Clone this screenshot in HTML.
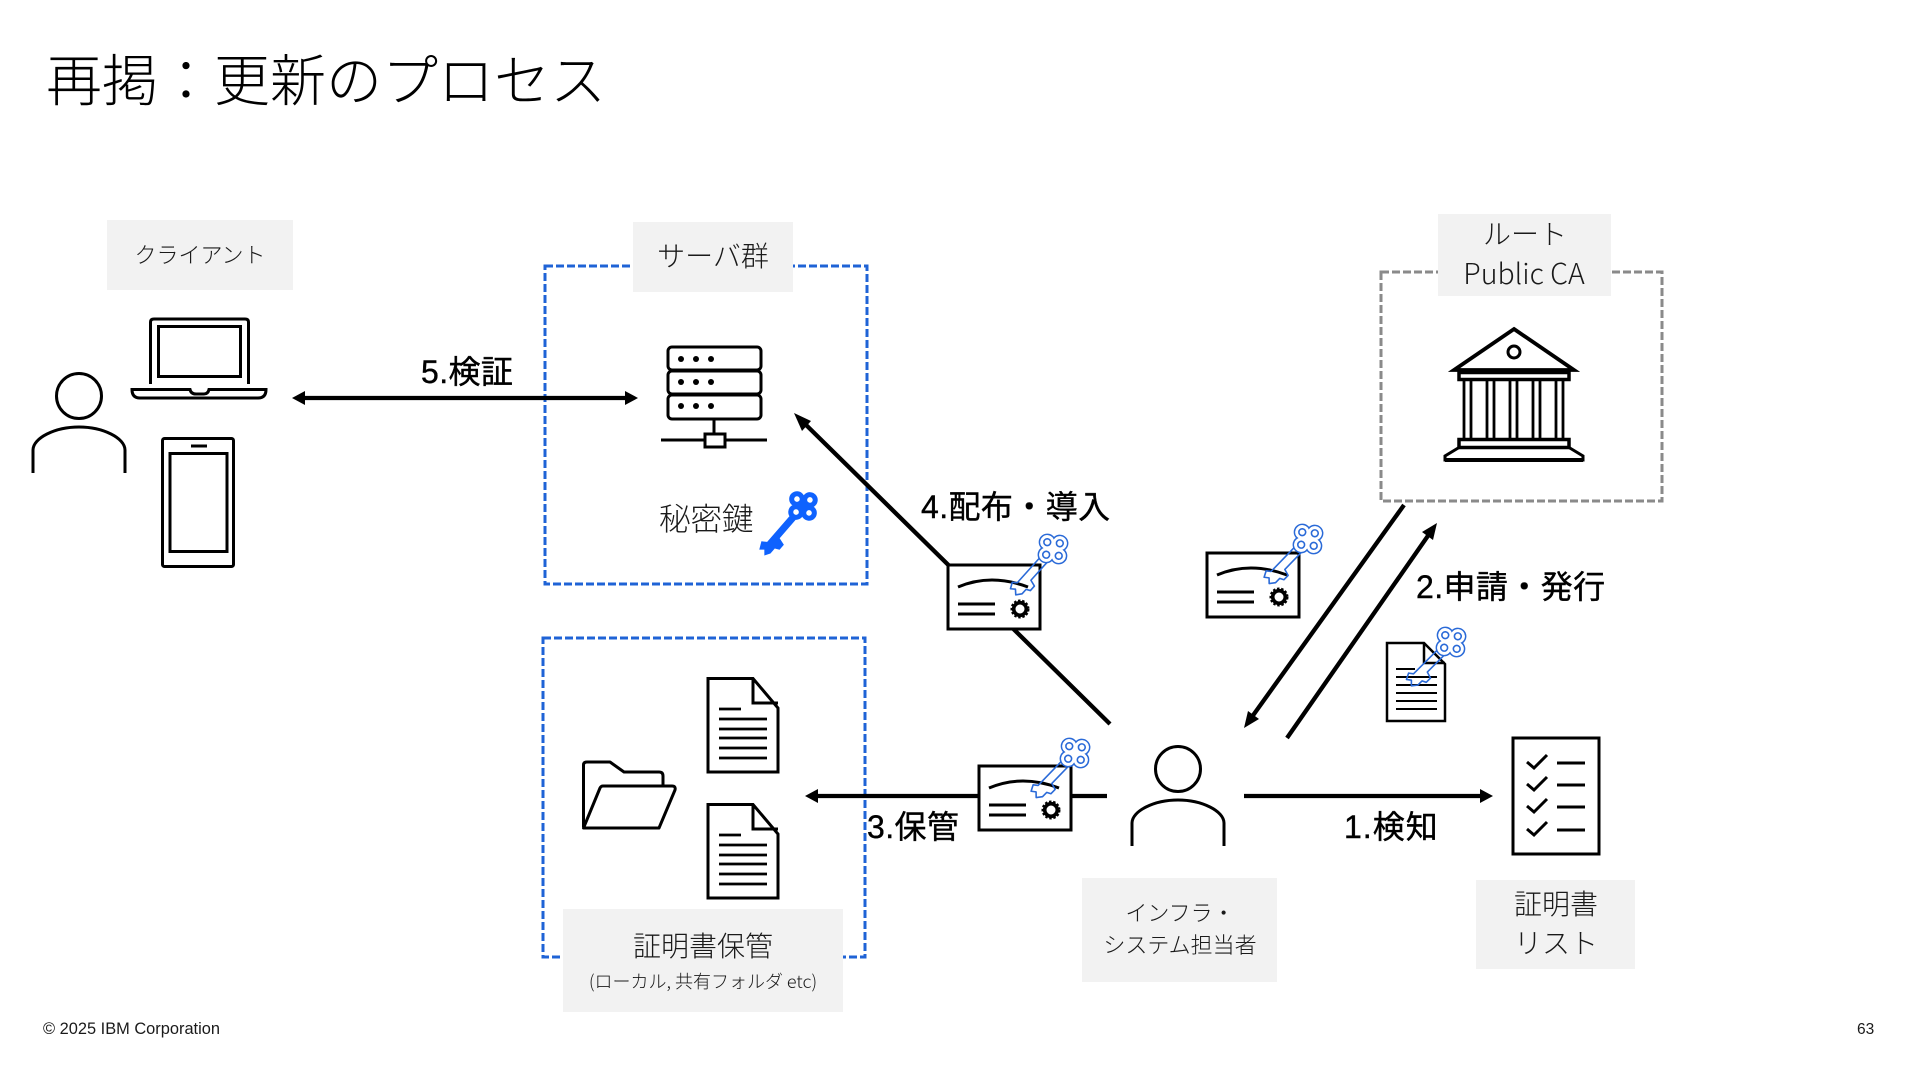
<!DOCTYPE html>
<html lang="ja">
<head>
<meta charset="utf-8">
<title>再掲：更新のプロセス</title>
<style>
html,body{margin:0;padding:0;background:#fff;width:1920px;height:1080px;overflow:hidden}
svg{display:block}
text{font-family:"Liberation Sans","Noto Sans CJK JP",sans-serif;fill:#1a1a1a}
.lbl{text-anchor:middle;font-weight:300}
.nt{font-family:"Noto Sans CJK JP","Liberation Sans",sans-serif}
.step{text-anchor:start;fill:#000;stroke:#000;stroke-width:.4px;letter-spacing:.4px}
.ln{fill:none;stroke:#000;stroke-width:3}
.th{fill:none;stroke:#000;stroke-width:2.8}
.ar{stroke:#000;stroke-width:4.3;fill:none}
.box{fill:#f2f2f2}
.kh{fill:#fff;stroke:#2a6ad8;stroke-width:1.6}
.kw{fill:#fff;stroke:none}
.ks{fill:none;stroke:#2a6ad8;stroke-width:1.6;stroke-linejoin:round}
</style>
</head>
<body>
<svg width="1920" height="1080" viewBox="0 0 1920 1080" xmlns="http://www.w3.org/2000/svg">
<defs>
<g id="khead">
  <circle class="kh" cx="-6.3" cy="-6.3" r="7.8"/><circle class="kh" cx="6.3" cy="-6.3" r="7.8"/>
  <circle class="kh" cx="-6.3" cy="6.3" r="7.8"/><circle class="kh" cx="6.3" cy="6.3" r="7.8"/>
  <circle class="kw" cx="-6.3" cy="-6.3" r="7"/><circle class="kw" cx="6.3" cy="-6.3" r="7"/>
  <circle class="kw" cx="-6.3" cy="6.3" r="7"/><circle class="kw" cx="6.3" cy="6.3" r="7"/>
  <rect class="kw" x="-6" y="-6" width="12" height="12"/>
  <circle class="ks" cx="-6.3" cy="-6.3" r="3.4"/><circle class="ks" cx="6.3" cy="-6.3" r="3.4"/>
  <circle class="ks" cx="-6.3" cy="6.3" r="3.4"/><circle class="ks" cx="6.3" cy="6.3" r="3.4"/>
</g>
<path id="kshaft" class="ks" d="M-4 14V49L-8 52L-5 58L-1 55L3 59L7 54V48L11 46V40L4.500 38V14"/>
<g id="cert">
  <rect x="1" y="1" width="92" height="64" fill="#fff" stroke="#000" stroke-width="3"/>
  <path d="M11 23Q44 9 81 23" class="ln"/>
  <path d="M11 40H48M11 50H48" class="ln"/>
  <circle cx="73" cy="45" r="6.300" fill="none" stroke="#000" stroke-width="3.600"/>
  <circle cx="73" cy="45" r="8.300" fill="none" stroke="#000" stroke-width="2.400" stroke-dasharray="2.400 1.700"/>
</g>
<g id="doc">
  <path d="M1 1.500H46L71 31V95H1Z" fill="#fff" stroke="#000" stroke-width="3"/>
  <path d="M46 1.500V26H71" class="ln"/>
  <path d="M12 32H34M12 42H60M12 52H60M12 61H60M12 71H60M12 81H60" class="th"/>
</g>
</defs>

<!-- title -->
<text x="46" y="101" font-size="56" style="font-weight:300;fill:#000">再掲：更新のプロセス</text>

<!-- dashed boxes -->
<rect x="545" y="266" width="322" height="318" fill="none" stroke="#1f63d6" stroke-width="3" stroke-dasharray="8 3"/>
<rect x="543" y="638" width="322" height="319" fill="none" stroke="#1f63d6" stroke-width="3" stroke-dasharray="8 3"/>
<rect x="1381" y="272" width="281" height="229" fill="none" stroke="#8a8a8a" stroke-width="3" stroke-dasharray="8 3"/>

<!-- label boxes -->
<rect class="box" x="107" y="220" width="186" height="70"/>
<text class="lbl" x="200" y="263" font-size="22">クライアント</text>
<rect class="box" x="633" y="222" width="160" height="70"/>
<text class="lbl" x="713" y="266" font-size="28">サーバ群</text>
<rect class="box" x="1438" y="214" width="173" height="82"/>
<text class="lbl" x="1525" y="244" font-size="28">ルート</text>
<text class="lbl nt" x="1524" y="284" font-size="28.500">Public CA</text>
<rect class="box" x="563" y="909" width="280" height="103"/>
<text class="lbl" x="703" y="956" font-size="28">証明書保管</text>
<text class="lbl nt" x="703" y="988" font-size="18">(ローカル, 共有フォルダ etc)</text>
<rect class="box" x="1082" y="878" width="195" height="104"/>
<text class="lbl" x="1180" y="921" font-size="22">インフラ・</text>
<text class="lbl" x="1180" y="953" font-size="22">システム担当者</text>
<rect class="box" x="1476" y="880" width="159" height="89"/>
<text class="lbl" x="1556" y="914" font-size="28">証明書</text>
<text class="lbl" x="1556" y="953" font-size="28">リスト</text>

<!-- client person -->
<circle cx="79" cy="396" r="22.500" class="ln"/>
<path d="M33 473V450C33 438 55 427 79 427C103 427 125 438 125 450V473" class="ln"/>
<!-- laptop -->
<path d="M150.500 384V322Q150.500 319 154 319H245Q248.500 319 248.500 322V384" class="ln"/>
<rect x="158.500" y="326.500" width="82" height="50" class="ln"/>
<path d="M132 389.500H190Q191 394 196 394H204Q208 394 209 389.500H266Q266 398 258 398H140Q132 398 132 389.500Z" class="ln"/>
<!-- phone -->
<rect x="162.500" y="438.500" width="71" height="128" rx="2" class="ln"/>
<rect x="170" y="453.500" width="57" height="98" class="ln"/>
<path d="M191 446H207" class="ln"/>

<!-- arrow 5 -->
<path d="M300 398H630" class="ar"/>
<polygon points="292,398 305,391 305,405" fill="#000"/>
<polygon points="638,398 625,391 625,405" fill="#000"/>
<text class="step" x="421" y="383" font-size="32">5.検証</text>

<!-- server -->
<rect x="668" y="347" width="93" height="23" rx="4" class="ln"/>
<rect x="668" y="371" width="93" height="23" rx="4" class="ln"/>
<rect x="668" y="395" width="93" height="24" rx="4" class="ln"/>
<g fill="#000">
<circle cx="681" cy="359" r="3"/><circle cx="696" cy="359" r="3"/><circle cx="711" cy="359" r="3"/>
<circle cx="681" cy="382" r="3"/><circle cx="696" cy="382" r="3"/><circle cx="711" cy="382" r="3"/>
<circle cx="681" cy="406" r="3"/><circle cx="696" cy="406" r="3"/><circle cx="711" cy="406" r="3"/>
</g>
<path d="M714 419V434M661 440H704M725 440H767" class="ln"/>
<rect x="705" y="434" width="20" height="13" class="ln"/>

<text x="659" y="530" font-size="31.500" style="font-weight:300">秘密鍵</text>
<!-- solid key -->
<g fill="#0f62fe">
  <g transform="translate(803 506) rotate(41) scale(1.1)">
    <path d="M-3.200 12V46L-7.500 49L-4 56L-.5 53L3 57L6 52V46L10 44V38L3.200 36V12Z"/>
  </g>
  <g transform="translate(803 506) rotate(4)">
    <circle cx="-6.500" cy="-6.500" r="7.800"/><circle cx="6.500" cy="-6.500" r="7.800"/>
    <circle cx="-6.500" cy="6.500" r="7.800"/><circle cx="6.500" cy="6.500" r="7.800"/>
    <rect x="-7" y="-7" width="14" height="14"/>
    <g fill="#fff"><circle cx="-6.500" cy="-6.500" r="2.800"/><circle cx="6.500" cy="-6.500" r="2.800"/>
    <circle cx="-6.500" cy="6.500" r="2.800"/><circle cx="6.500" cy="6.500" r="2.800"/></g>
  </g>
</g>

<!-- arrow 4 -->
<path d="M1110 724L800 419" class="ar"/>
<polygon points="794,413 811,421 802,431" fill="#000"/>
<text class="step" x="921" y="518" font-size="32">4.配布・導入</text>
<use href="#cert" x="947" y="564"/>
<use href="#kshaft" transform="translate(1053 549) rotate(42)"/>
<use href="#khead" transform="translate(1053 549) rotate(5)"/>

<!-- CA bank -->
<path d="M1514 329L1574 370H1454Z" fill="#fff" stroke="#000" stroke-width="3.800" stroke-linejoin="miter"/>
<circle cx="1514" cy="352" r="6" class="ln"/>
<rect x="1459" y="372.500" width="110" height="7" fill="none" stroke="#000" stroke-width="3.500"/>
<path d="M1464 380V439M1471 380V439M1487 380V439M1494 380V439M1510 380V439M1517 380V439M1533 380V439M1540 380V439M1556 380V439M1563 380V439" class="th"/>
<rect x="1459" y="439.500" width="110" height="8" fill="none" stroke="#000" stroke-width="3.500"/>
<path d="M1459 447.500L1445 456V460H1583V456L1569 447.500" class="ln"/>
<path d="M1445 460H1583" stroke="#000" stroke-width="4"/>

<!-- arrow 2 -->
<path d="M1404 505L1249 721" class="ar"/>
<polygon points="1244,728 1248,711 1259,719" fill="#000"/>
<path d="M1287 738L1432 530" class="ar"/>
<polygon points="1437,523 1433,540 1422,532" fill="#000"/>
<text class="step" x="1416" y="598" font-size="32">2.申請・発行</text>

<use href="#cert" x="1206" y="552"/>
<use href="#kshaft" transform="translate(1308 539) rotate(44)"/>
<use href="#khead" transform="translate(1308 539) rotate(5)"/>

<!-- request doc -->
<g>
  <path d="M1387 643H1424L1445 664V721H1387Z" fill="#fff" stroke="#000" stroke-width="2.500"/>
  <path d="M1424 643V663H1445" fill="none" stroke="#000" stroke-width="2.500"/>
  <path d="M1396 669H1415M1396 677H1437M1396 685H1437M1396 693H1437M1396 701H1437M1396 709H1437" stroke="#000" stroke-width="2"/>
</g>
<use href="#kshaft" transform="translate(1451 642) rotate(45)"/>
<use href="#khead" transform="translate(1451 642) rotate(5)"/>

<!-- storage -->
<use href="#doc" x="707" y="677"/>
<use href="#doc" x="707" y="803"/>
<path d="M583.500 827V765Q583.500 762 587 762H610L624 772H659Q663 772 663 776V786" class="ln" stroke-linejoin="round"/>
<path d="M583.500 828L600 788Q601 786 603 786H672Q676 786 675 790L659 828Z" class="ln" stroke-linejoin="round"/>

<!-- arrow 3 -->
<path d="M815 796H1107" class="ar"/>
<polygon points="805,796 818,789 818,803" fill="#000"/>
<text class="step" x="867" y="838" font-size="32">3.保管</text>
<use href="#cert" x="978" y="765"/>
<use href="#kshaft" transform="translate(1075 753) rotate(44)"/>
<use href="#khead" transform="translate(1075 753) rotate(5)"/>

<!-- infra person -->
<circle cx="1178" cy="769" r="22.500" class="ln"/>
<path d="M1132 846V823C1132 811 1154 800 1178 800C1202 800 1224 811 1224 823V846" class="ln"/>

<!-- arrow 1 -->
<path d="M1244 796H1484" class="ar"/>
<polygon points="1493,796 1480,789 1480,803" fill="#000"/>
<text class="step" x="1344" y="838" font-size="32" style="letter-spacing:1px">1.検知</text>

<!-- checklist -->
<rect x="1513" y="738" width="86" height="116" fill="none" stroke="#000" stroke-width="3"/>
<g fill="none" stroke="#000" stroke-width="3">
<path d="M1527 762L1534 768L1547 755M1527 784L1534 790L1547 777M1527 806L1534 812L1547 799M1527 829L1534 835L1547 822"/>
<path d="M1557 763H1585M1557 785H1585M1557 807H1585M1557 830H1585"/>
</g>

<!-- footer -->
<text x="43" y="1034" font-size="16.400">© 2025 IBM Corporation</text>
<text x="1857" y="1034" font-size="15.500">63</text>
</svg>
</body>
</html>
